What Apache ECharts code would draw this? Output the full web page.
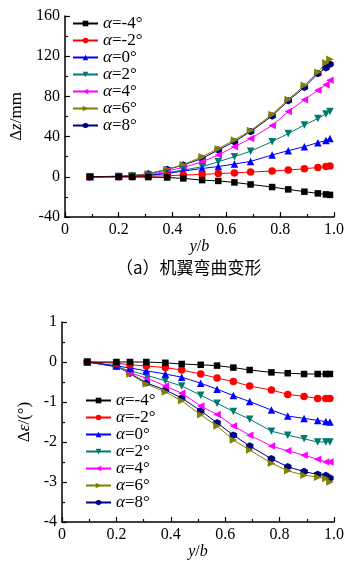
<!DOCTYPE html>
<html>
<head>
<meta charset="utf-8">
<script src="https://cdn.jsdelivr.net/npm/echarts@6/dist/echarts.min.js"></script>
<style>
  html, body { margin: 0; padding: 0; background: #fff; }
  #chart { width: 360px; height: 566px; }
</style>
</head>
<body>
<div id="chart"></div>
<script>
// spanwise stations y/b (shared by all curves)
const spanPos = [0.093, 0.2, 0.25, 0.31, 0.38, 0.44, 0.51, 0.57, 0.63, 0.69, 0.77, 0.83, 0.89, 0.94, 0.97, 0.985];
const alphaLabels = ['-4', '-2', '0', '2', '4', '6', '8'];

// (a) bending deflection dz / mm
const dzM4 = [0, 0, -0.2, -0.3, -0.7, -1.6, -3.3, -4.1, -5.6, -7.6, -10.2, -12.5, -14.8, -16.5, -17.5, -18];
const dzM2 = [0, 0, 0.2, 0.5, 1, 1.7, 2.4, 3.2, 3.9, 4.7, 5.7, 6.7, 8, 9.3, 10.3, 10.8];
const dz0 = [0, 0.2, 0.5, 1.2, 3.3, 5.7, 8.3, 10.2, 12.7, 15.3, 21.7, 26, 30, 34, 36, 38];
const dz2 = [0, 0.3, 0.7, 1.6, 4, 6.7, 10, 15, 20, 25.5, 35, 43, 51.5, 58, 62.5, 65];
const dz4 = [0, 0.4, 0.9, 2, 5.7, 9.3, 15, 21.7, 30, 38, 51, 65, 76.7, 86, 91.7, 96];
const dz6 = [0, 0.6, 1.2, 3, 7.5, 12, 20, 28, 36.7, 46, 62, 77, 91, 104, 113.5, 117];
const dz8 = [0, 0.5, 1.1, 3, 7.3, 11.7, 18.3, 26.7, 35, 45, 60.5, 75.7, 89, 102.7, 108.4, 112];

// twist angle d-epsilon / deg
const deM4 = [0, 0, 0, 0, -0.02, -0.05, -0.07, -0.09, -0.14, -0.2, -0.26, -0.28, -0.3, -0.3, -0.3, -0.3];
const deM2 = [0, -0.03, -0.07, -0.1, -0.14, -0.2, -0.3, -0.4, -0.49, -0.6, -0.7, -0.81, -0.86, -0.91, -0.91, -0.91];
const de0 = [0, -0.1, -0.15, -0.22, -0.3, -0.38, -0.53, -0.68, -0.84, -0.99, -1.2, -1.35, -1.41, -1.46, -1.49, -1.5];
const de2 = [0, -0.12, -0.22, -0.33, -0.47, -0.6, -0.83, -1.03, -1.24, -1.43, -1.73, -1.83, -1.92, -2.0, -2.0, -2.0];
const de4 = [0, -0.12, -0.27, -0.4, -0.6, -0.78, -1.1, -1.31, -1.6, -1.83, -2.1, -2.22, -2.33, -2.43, -2.5, -2.5];
const de6 = [0, -0.1, -0.3, -0.55, -0.75, -0.97, -1.32, -1.6, -1.95, -2.2, -2.53, -2.72, -2.83, -2.88, -2.91, -3.0];
const de8 = [0, -0.1, -0.28, -0.52, -0.7, -0.9, -1.22, -1.52, -1.83, -2.1, -2.42, -2.62, -2.74, -2.81, -2.84, -2.9];

const serif = 'Liberation Serif';
const colors = ['#000000', '#ff0000', '#0000ff', '#007a70', '#ff00ff', '#7f7f00', '#000080'];
const symbols = [
    'rect',
    'circle',
    'triangle',
    'path://M0,0 L10,0 L5,9 Z',
    'path://M0,5 L9,0 L9,10 Z',
    'path://M0,0 L9,5 L0,10 Z',
    'path://M5,0 L10,2.5 L10,7.5 L5,10 L0,7.5 L0,2.5 Z'
];
const sizes = [6.5, 7.5, 7.5, 7.5, 7.5, 7.5, 7.5];

let chart = echarts.init(document.getElementById('chart'));

function pairs(ys) {
    return ys.map((v, i) => [spanPos[i], v]);
}

function makeSeries(prefix, list, gridIdx) {
    return list.map((ys, k) => ({
        name: prefix + k,
        type: 'line',
        xAxisIndex: gridIdx,
        yAxisIndex: gridIdx,
        data: pairs(ys),
        symbol: symbols[k],
        symbolSize: sizes[k],
        color: colors[k],
        lineStyle: { width: 1, color: colors[k] },
        itemStyle: { color: colors[k] },
        z: 10 - k
    }));
}

function richName(size) {
    return {
        i: { fontFamily: serif, fontSize: size, fontStyle: 'italic', color: '#000' },
        n: { fontFamily: serif, fontSize: size, color: '#000' }
    };
}

const axisCommon = {
    axisLine: { onZero: false, lineStyle: { color: '#000', width: 1.5 } },
    axisTick: { inside: true, length: 5, lineStyle: { color: '#000', width: 1.2 } },
    minorTick: { show: true, splitNumber: 2, length: 3, lineStyle: { color: '#000', width: 1.2 } },
    splitLine: { show: false },
    axisLabel: { color: '#000', fontFamily: serif, fontSize: 16, margin: 5 }
};

function xAxisFor(gridIdx) {
    return Object.assign({}, axisCommon, {
        type: 'value', gridIndex: gridIdx, min: 0, max: 1, interval: 0.2,
        name: '{i|y}{n|/}{i|b}', nameLocation: 'middle', nameGap: 19,
        nameTextStyle: { rich: richName(16) },
        axisLabel: Object.assign({}, axisCommon.axisLabel, {
            formatter: v => v === 0 ? '0' : v.toFixed(1)
        })
    });
}

function legendFor(prefix, left, top) {
    let rich = richName(17);
    rich.i.lineHeight = 16;
    rich.n.lineHeight = 16;
    return {
        data: alphaLabels.map((a, k) => prefix + k),
        orient: 'vertical',
        left: left,
        top: top,
        itemWidth: 25,
        itemHeight: 7,
        itemGap: 0,
        padding: 0,
        textStyle: { fontFamily: serif, fontSize: 17, color: '#000', lineHeight: 16, rich: rich },
        formatter: name => '{i|α}{n|=' + alphaLabels[+name.slice(1)] + '°}'
    };
}

let option = {
    animation: false,
    backgroundColor: '#fff',
    grid: [
        { left: 62, top: 16, width: 272, height: 201 },
        { left: 62, top: 322, width: 272, height: 200 }
    ],
    xAxis: [xAxisFor(0), xAxisFor(1)],
    yAxis: [
        Object.assign({}, axisCommon, {
            type: 'value', gridIndex: 0, min: -40, max: 160, interval: 40,
            name: '{n|Δ}{i|z}{n|/mm}', nameLocation: 'middle', nameGap: 29,
            nameTextStyle: { rich: richName(17) }
        }),
        Object.assign({}, axisCommon, {
            type: 'value', gridIndex: 1, min: -4, max: 1, interval: 1,
            name: '{n|Δ}{i|ε}{n|/(°)}', nameLocation: 'middle', nameGap: 29,
            nameTextStyle: { rich: richName(17) }
        })
    ],
    legend: [
        legendFor('z', 72, 15),
        legendFor('e', 85, 392)
    ],
    // sub-figure caption
    graphic: [{
        type: 'text',
        left: 116,
        top: 259,
        style: {
            text: '（a）机翼弯曲变形',
            font: '17px "Noto Sans CJK SC", "Liberation Serif", serif',
            fill: '#000'
        }
    }],
    series: makeSeries('z', [dzM4, dzM2, dz0, dz2, dz4, dz6, dz8], 0)
        .concat(makeSeries('e', [deM4, deM2, de0, de2, de4, de6, de8], 1))
};

chart.setOption(option);
</script>
</body>
</html>
